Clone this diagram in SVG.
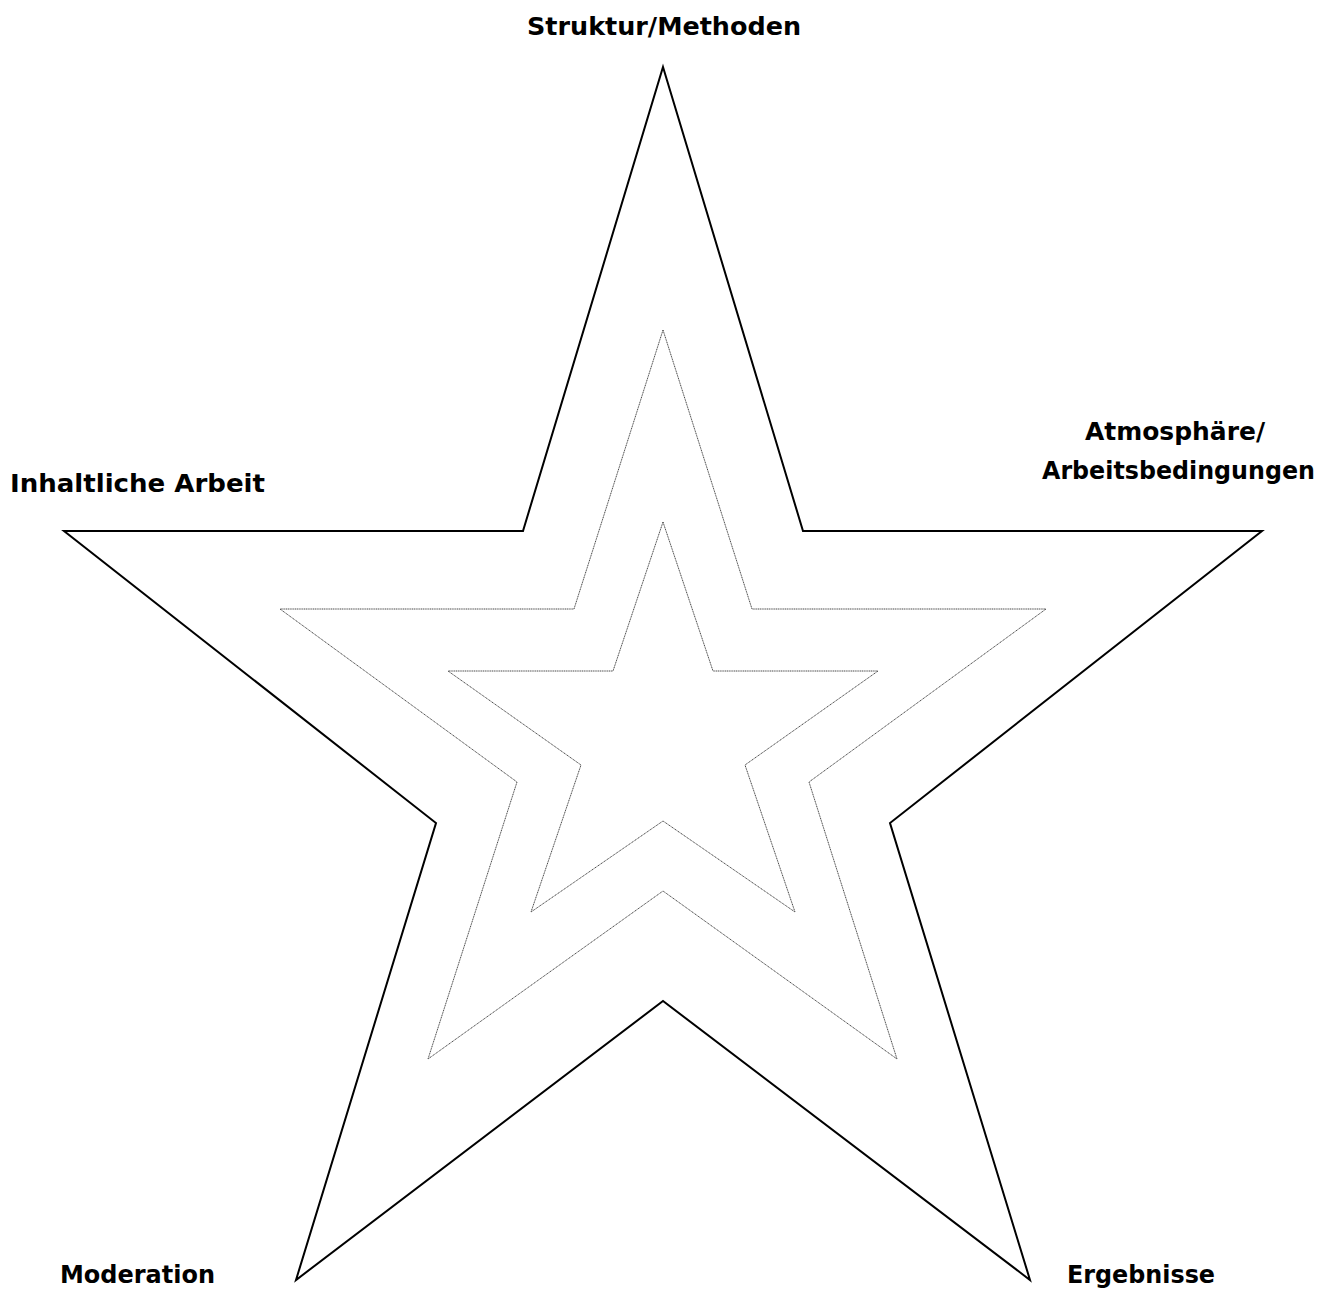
<svg xmlns="http://www.w3.org/2000/svg" width="1333" height="1289" viewBox="0 0 1333 1289">
<style>
.lbl{font-family:"DejaVu Sans","Liberation Sans",sans-serif;font-weight:bold;font-size:25px;fill:#000}
.outer{fill:none;stroke:#000;stroke-width:2;stroke-linejoin:miter}
.thin{fill:none;stroke:#333;stroke-width:0.9;stroke-dasharray:1.2 0.6}
</style>
<rect width="1333" height="1289" fill="#fff"/>
<g id="connectors">
<polygon id="star-outer" class="outer" points="663,67 803,531 1262,531 890,823 1030,1280 663,1001 296,1280 436,823 64,531 523,531"/>
<polygon id="star-middle" class="thin" points="663,330 752,609 1046,609 809,782 897,1059 663,891 428,1059 517,782 280,609 574,609"/>
<polygon id="star-inner" class="thin" points="663,522 713,671 878,671 745,765 795,912 663,821 531,912 581,765 448,671 613,671"/>
</g>
<g id="label-top"><text class="lbl" x="527" y="35" textLength="274" lengthAdjust="spacingAndGlyphs">Struktur/Methoden</text></g>
<g id="label-right"><text class="lbl" x="1085" y="440" textLength="180" lengthAdjust="spacingAndGlyphs">Atmosphäre/</text><text class="lbl" x="1042" y="479" textLength="273" lengthAdjust="spacingAndGlyphs">Arbeitsbedingungen</text></g>
<g id="label-left"><text class="lbl" x="10" y="492" textLength="255" lengthAdjust="spacingAndGlyphs">Inhaltliche Arbeit</text></g>
<g id="label-bottom-left"><text class="lbl" x="60" y="1283" textLength="155" lengthAdjust="spacingAndGlyphs">Moderation</text></g>
<g id="label-bottom-right"><text class="lbl" x="1067" y="1283" textLength="148" lengthAdjust="spacingAndGlyphs">Ergebnisse</text></g>
</svg>
